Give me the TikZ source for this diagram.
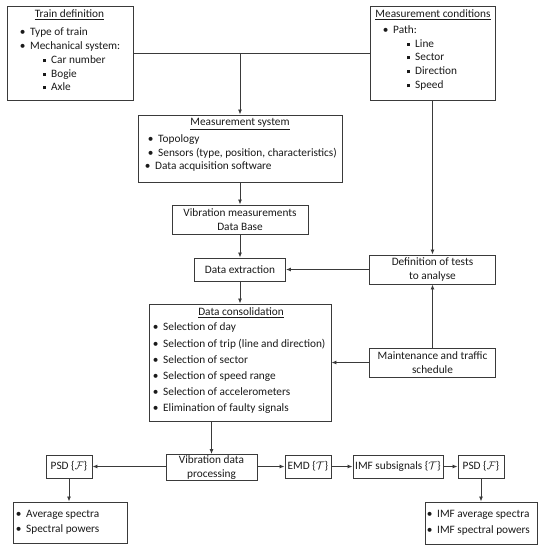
\documentclass[tikz,border=0pt]{standalone}
\usepackage{fontspec}
\setmainfont{Carlito}
\usetikzlibrary{arrows.meta}
\definecolor{lncol}{HTML}{3A3A3A}
\definecolor{txcol}{HTML}{1A1A1A}
\newcommand{\bul}{\llap{\makebox[15pt][c]{\textbullet}}}
\newcommand{\sqb}{\llap{\makebox[13pt][c]{\rule[1.4pt]{3pt}{3pt}}}}
\begin{document}
\begin{tikzpicture}[x=1pt,y=-1pt,
  box/.style={draw=lncol,line width=0.95pt,inner sep=0pt,align=center,text=txcol,font=\fontsize{11.3}{13.5}\selectfont},
  tl/.style={inner sep=0pt,anchor=west,text height=8pt,text depth=2.5pt,text=txcol,font=\fontsize{11.3}{13.5}\selectfont},
  tt/.style={tl,anchor=center},
  arr/.style={draw=lncol,line width=0.85pt,-{Latex[length=5pt,width=4pt]}},
  conn/.style={draw=lncol,line width=0.85pt}]
\fill[white] (0,0) rectangle (544,550);
\useasboundingbox (0,0) rectangle (544,550);
% boxes
\node[box,minimum width=126pt,minimum height=94pt] (td) at (70,53) {};
\node[box,minimum width=125pt,minimum height=94pt] (mc) at (432.5,53) {};
\node[box,minimum width=204pt,minimum height=67pt] (ms) at (240,148.5) {};
\node[box,minimum width=136pt,minimum height=29pt] (db) at (240,219.5) {Vibration measurements\\Data Base};
\node[box,minimum width=91pt,minimum height=23pt] (de) at (240,269.5) {Data extraction};
\node[box,minimum width=126pt,minimum height=29pt] (dt) at (432.5,269.5) {Definition of tests\\to analyse};
\node[box,minimum width=182pt,minimum height=117pt] (dc) at (240,362.5) {};
\node[box,minimum width=126pt,minimum height=29pt] (mt) at (432.5,362.5) {Maintenance and traffic\\schedule};
\node[box,minimum width=91pt,minimum height=26pt] (vp) at (211.5,467.5) {Vibration data\\processing};
\node[box,minimum width=46pt,minimum height=23pt] (p1) at (69,466.5) {PSD \{$\mathcal{F}$\}};
\node[box,minimum width=46pt,minimum height=23pt] (emd) at (308,466.5) {EMD \{$\mathcal{T}$\}};
\node[box,minimum width=90pt,minimum height=23pt] (imf) at (398,466.5) {IMF subsignals \{$\mathcal{T}$\}};
\node[box,minimum width=46pt,minimum height=23pt] (p2) at (481,466.5) {PSD \{$\mathcal{F}$\}};
\node[box,minimum width=114pt,minimum height=41pt] (as) at (70,522.5) {};
\node[box,minimum width=112pt,minimum height=42pt] (is) at (481,523) {};
% train definition
\node[tt] (td0) at (69.5,15) {\underline{Train definition}};
\node[tl] (td1) at (30,33) {\bul Type of train};
\node[tl] (td2) at (30,47) {\bul Mechanical system:};
\node[tl] (td3) at (51,61) {\sqb Car number};
\node[tl] (td4) at (51,74.5) {\sqb Bogie};
\node[tl] (td5) at (51,88) {\sqb Axle};
% measurement conditions
\node[tt] (mc0) at (433,15) {\underline{Measurement conditions}};
\node[tl] (mc1) at (393,31) {\bul Path:};
\node[tl] (mc2) at (415,44.5) {\sqb Line};
\node[tl] (mc3) at (415,58) {\sqb Sector};
\node[tl] (mc4) at (415,72) {\sqb Direction};
\node[tl] (mc5) at (415,86) {\sqb Speed};
% measurement system
\node[tt] (ms0) at (240,123) {\underline{Measurement system}};
\node[tl] (ms1) at (158,140) {\bul Topology};
\node[tl] (ms2) at (158,153.5) {\bul Sensors (type, position, characteristics)};
\node[tl] (ms3) at (155,167) {\bul Data acquisition software};
% data consolidation
\node[tt] (dc0) at (241,313) {\underline{Data consolidation}};
\node[tl] (dc1) at (163,328) {\bul Selection of day};
\node[tl] (dc2) at (163,344.5) {\bul Selection of trip (line and direction)};
\node[tl] (dc3) at (163,360.5) {\bul Selection of sector};
\node[tl] (dc4) at (163,376.5) {\bul Selection of speed range};
\node[tl] (dc5) at (163,393) {\bul Selection of accelerometers};
\node[tl] (dc6) at (163,409) {\bul Elimination of faulty signals};
% bottom lists
\node[tl] (as1) at (26,514.5) {\bul Average spectra};
\node[tl] (as2) at (26,530) {\bul Spectral powers};
\node[tl] (is1) at (437,515) {\bul IMF average spectra};
\node[tl] (is2) at (437,530.5) {\bul IMF spectral powers};
% connectors
\coordinate (j1) at (240,53);
\draw[conn] (td.east) -- (mc.west);
\draw[arr] (j1) -- (ms.north);
\draw[arr] (ms.south) -- (db.north);
\draw[arr] (db.south) -- (de.north);
\draw[arr] (de.south) -- (dc.north);
\draw[arr] (mc.south) -- (dt.north);
\draw[arr] (mt.north) -- (dt.south);
\draw[arr] (dt.west) -- (de.east);
\draw[arr] (mt.west) -- (dc.east);
\draw[arr] (vp.north |- dc.south) -- (vp.north);
\draw[arr] (p1.east -| vp.west) -- (p1.east);
\draw[arr] (emd.west -| vp.east) -- (emd.west);
\draw[arr] (emd.east) -- (imf.west);
\draw[arr] (imf.east) -- (p2.west);
\draw[arr] (p1.south) -- (p1.south |- as.north);
\draw[arr] (p2.south) -- (is.north);
\end{tikzpicture}
\end{document}
